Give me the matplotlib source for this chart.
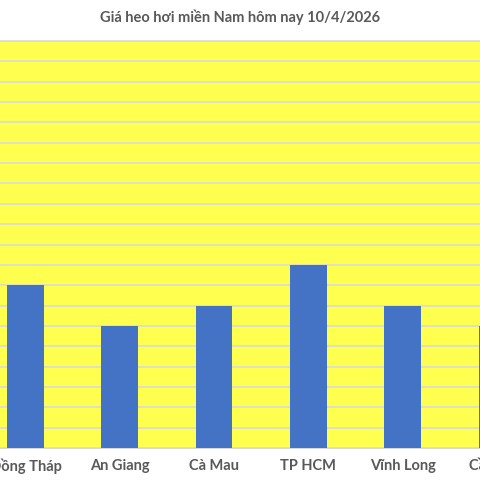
import matplotlib
matplotlib.use("Agg")
import matplotlib.pyplot as plt
from matplotlib.ticker import MultipleLocator
from matplotlib.transforms import blended_transform_factory, offset_copy

categories = ["Đồng Tháp", "An Giang", "Cà Mau", "TP HCM", "Vĩnh Long", "Cần Thơ"]
prices = [58000, 56000, 57000, 59000, 57000, 56000]
title = "Giá heo hơi miền Nam hôm nay 10/4/2026"

plt.rcParams['font.family'] = ['Lato', 'DejaVu Sans']

fig = plt.figure(figsize=(4.8, 4.8), dpi=100)
fig.patch.set_facecolor("white")
ax = fig.add_axes([0.0, 1 - 448/480, 1.0, (448 - 41)/480])
ax.set_facecolor("#FFFF50")

x = list(range(len(categories)))
ax.bar(x, prices, width=0.39, color="#4472C4", zorder=3)

ax.set_xticks([])
ax.set_xlim(-0.27, 4.82)
ax.set_ylim(50000, 70000)
ax.yaxis.set_major_locator(MultipleLocator(1000))
ax.grid(axis="y", color="#D9D9D9", linewidth=1.2, zorder=1)
ax.set_axisbelow(True)
ax.tick_params(axis="y", left=False, labelleft=False)
for s in ["left", "right"]:
    ax.spines[s].set_visible(False)
ax.spines["top"].set_color("#D9D9D9")
ax.spines["bottom"].set_color("#D9D9D9")
ax.spines["top"].set_linewidth(1.2)

trans = offset_copy(blended_transform_factory(ax.transData, ax.transAxes),
                    fig=fig, y=-18, units="dots")
for xi, lab in zip(x, categories):
    ax.text(xi, 0, lab, transform=trans, ha="center", va="center",
            fontsize=10.5, color="#595959", fontweight="bold", clip_on=False)

fig.text(0.5, 1 - 17/480, title, ha="center", va="center", fontsize=10.5,
         color="#595959", fontweight="bold")

fig.savefig("out.png", dpi=100, facecolor="white")
